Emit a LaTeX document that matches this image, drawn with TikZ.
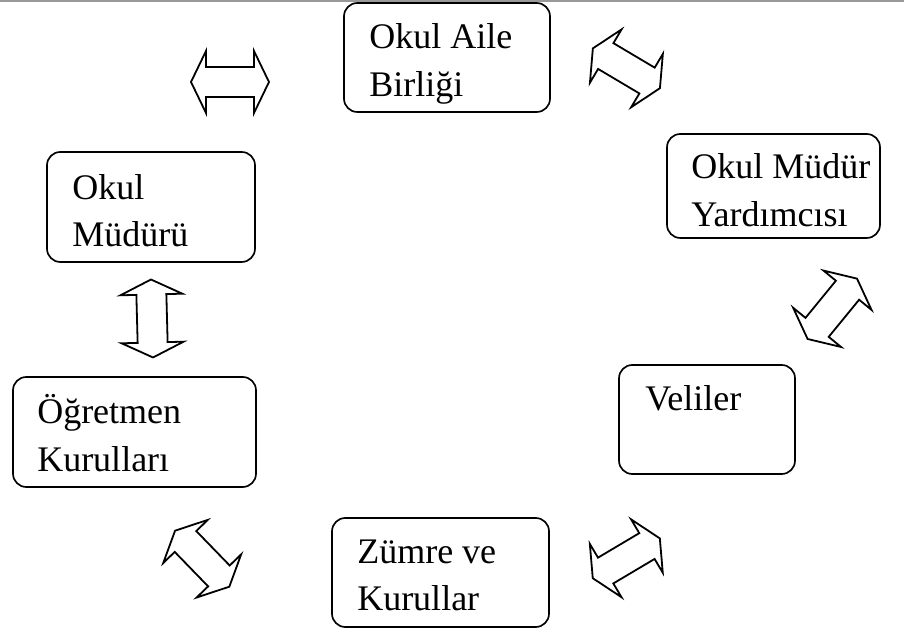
\documentclass[tikz,border=0pt]{standalone}
\usepackage{fontspec}
\setmainfont{Liberation Serif}
\tikzset{
  x=0.75pt, y=-0.75pt,
  box/.style={draw, line width=1.25pt, rounded corners=10pt, inner sep=0pt},
  lbl/.style={anchor=base west, inner sep=0pt, font=\fontsize{27pt}{36pt}\selectfont},
  arrowline/.style={draw, line width=1.35pt, line join=miter, fill=white},
  dblarrow/.pic={
    \path[arrowline] (-39,0) -- (-24,-31) -- (-24,-15) -- (24,-15) -- (24,-31)
      -- (39,0) -- (24,31) -- (24,15) -- (-24,15) -- (-24,31) -- cycle;
  }
}
\newcommand\mkbox[5]{%
  \node[box, minimum width={(#4-#2)*0.75pt}, minimum height={(#5-#3)*0.75pt}]
    (#1) at ({(#2+#4)/2},{(#3+#5)/2}) {};}
\begin{document}
\begin{tikzpicture}
\useasboundingbox (0,0) rectangle (904,630);
\draw[line width=1.2pt, black!40] (0,0.8) -- (904,0.8);
% boxes
\mkbox{aile}{344}{3}{550}{112}
\mkbox{yard}{667}{134}{880}{238}
\mkbox{mudur}{47}{152}{255}{262}
\mkbox{ogret}{13}{377}{256}{487}
\mkbox{veli}{619}{365}{795}{474}
\mkbox{zumre}{332}{518}{549}{627}
% texts
\node[lbl] (t1a) at (369,49) {Okul Aile};
\node[lbl] (t1b) at (369,96.5) {Birliği};
\node[lbl] (t2a) at (691,179) {Okul Müdür};
\node[lbl] (t2b) at (691,226.5) {Yardımcısı};
\node[lbl] (t3a) at (72,200) {Okul};
\node[lbl] (t3b) at (72,246.5) {Müdürü};
\node[lbl] (t4a) at (37,424) {Öğretmen};
\node[lbl] (t4b) at (37,471.5) {Kurulları};
\node[lbl] (t5a) at (645,411) {Veliler};
\node[lbl] (t6a) at (357,564) {Zümre ve};
\node[lbl] (t6b) at (357,611) {Kurullar};
% double arrows
\pic at (230,82) {dblarrow};
\pic[rotate=-30.7] at (626.4,68.3) {dblarrow};
\pic[rotate=50.7] at (832.3,308.8) {dblarrow};
\pic[rotate=91.5] at (152,318.5) {dblarrow};
\pic[rotate=-45.9] at (202.2,558.7) {dblarrow};
\pic[rotate=30.7] at (626.3,558.3) {dblarrow};
\end{tikzpicture}
\end{document}
